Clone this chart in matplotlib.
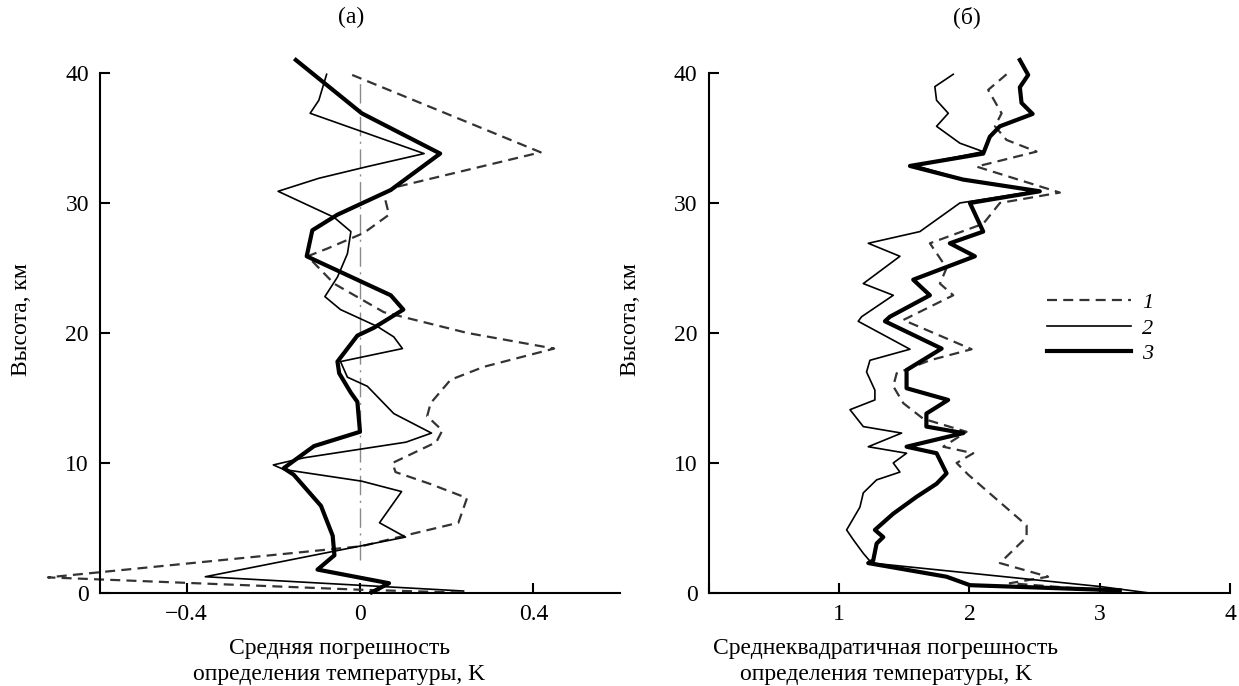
import matplotlib
matplotlib.use("Agg")
import matplotlib.pyplot as plt

# ---- data: panel (а), mean error, K ----
a_h1 = [39.85, 33.9, 31.25, 30.7, 29.1, 27.7, 26.5, 25.9, 23.8, 21.6, 20.0, 18.8, 17.4, 16.4, 14.6, 13.6,
        12.5, 11.6, 10.0, 9.3, 8.4, 7.3, 5.4, 4.5, 3.6, 1.2, 0.25, 0.02]
a_x1 = [-0.018, 0.417, 0.086, 0.055, 0.067, 0.009, -0.075, -0.121, -0.06, 0.055, 0.248, 0.448, 0.286, 0.209,
        0.163, 0.155, 0.19, 0.176, 0.075, 0.082, 0.161, 0.247, 0.227, 0.114, 0.004, -0.72, 0.0, 0.239]

a_h2 = [39.9, 37.9, 36.9, 33.8, 32.8, 31.9, 30.9, 28.9, 27.8, 26.1, 24.3, 22.8, 21.8, 20.5, 19.7, 18.8, 17.8,
        16.6, 15.9, 13.8, 12.3, 11.6, 10.4, 9.85, 9.5, 8.6, 7.8, 5.4, 4.3, 1.25, 0.15]
a_x2 = [-0.077, -0.095, -0.115, 0.148, 0.017, -0.095, -0.189, -0.06, -0.021, -0.029, -0.052, -0.081, -0.045,
        0.04, 0.078, 0.098, -0.045, -0.029, 0.017, 0.078, 0.165, 0.106, -0.129, -0.2, -0.176, 0.004, 0.096,
        0.045, 0.105, -0.357, 0.239]

a_h3 = [41.0, 36.9, 33.8, 31.0, 29.1, 27.9, 25.9, 22.9, 21.8, 20.4, 19.8, 17.8, 16.9, 15.4, 14.7, 12.4, 11.3,
        9.6, 9.1, 6.7, 4.4, 2.9, 1.8, 0.75, 0.05]
a_x3 = [-0.148, 0.004, 0.185, 0.071, -0.052, -0.11, -0.123, 0.071, 0.10, 0.032, -0.006, -0.052, -0.048,
        -0.021, -0.006, 0.0, -0.106, -0.176, -0.153, -0.09, -0.063, -0.059, -0.098, 0.067, 0.027]

# ---- data: panel (б), rms error, K ----
b_h1 = [39.9, 38.7, 36.9, 35.9, 34.85, 33.95, 32.8, 30.8, 30.0, 28.4, 26.9, 25.0, 23.8, 22.9, 21.0, 18.75,
        17.9, 16.9, 15.9, 14.6, 13.4, 12.4, 11.25, 10.75, 10.0, 9.1, 5.2, 4.3, 2.3, 1.25, 0.75, 0.1]
b_x1 = [2.285, 2.144, 2.247, 2.196, 2.285, 2.515, 2.055, 2.694, 2.234, 2.106, 1.697, 1.825, 1.774, 1.876,
        1.493, 2.017, 1.697, 1.442, 1.416, 1.493, 1.646, 1.978, 1.8, 2.03, 1.902, 1.991, 2.439, 2.439, 2.234,
        2.604, 2.31, 3.154]

b_h2 = [39.9, 38.95, 37.9, 36.9, 35.9, 34.6, 33.95, 32.9, 31.8, 30.9, 30.0, 27.8, 26.9, 25.9, 23.8, 22.9,
        21.25, 20.9, 18.75, 17.9, 17.0, 15.6, 14.85, 14.1, 12.8, 12.3, 11.25, 10.75, 10.0, 9.3, 8.7, 7.7, 6.6,
        4.85, 4.1, 3.05, 2.3, 0.5, 0.0]
b_x2 = [1.876, 1.735, 1.748, 1.838, 1.748, 1.927, 2.106, 1.58, 1.96, 2.5, 1.927, 1.62, 1.224, 1.467, 1.186,
        1.416, 1.173, 1.147, 1.544, 1.237, 1.211, 1.275, 1.275, 1.084, 1.186, 1.48, 1.224, 1.518, 1.416, 1.467,
        1.288, 1.186, 1.16, 1.058, 1.109, 1.186, 1.25, 3.0, 3.38]

b_h3 = [41.0, 39.85, 38.9, 37.7, 36.85, 35.9, 35.1, 33.8, 32.85, 31.8, 30.9, 30.0, 27.8, 26.9, 25.9, 24.1,
        22.9, 21.25, 20.9, 18.8, 17.15, 15.75, 14.85, 13.8, 12.8, 12.3, 11.25, 10.75, 9.2, 8.4, 7.4, 6.1, 4.85,
        4.3, 3.8, 2.5, 2.3, 1.25, 0.6, 0.2]
b_x3 = [2.387, 2.451, 2.387, 2.40, 2.485, 2.234, 2.157, 2.106, 1.544, 1.952, 2.54, 2.004, 2.106, 1.85, 2.042,
        1.569, 1.697, 1.39, 1.352, 1.787, 1.518, 1.518, 1.837, 1.67, 1.67, 1.953, 1.518, 1.748, 1.825, 1.748,
        1.595, 1.416, 1.275, 1.339, 1.288, 1.262, 1.224, 1.825, 2.004, 3.154]

labels = ["1", "2", "3"]
zero_line = (2.5, 39.6)

a_xticks = [-0.4, 0, 0.4]
a_xticklabels = ["\u22120.4", "0", "0.4"]
b_xticks = [0, 1, 2, 3, 4]
b_xticklabels = ["", "1", "2", "3", "4"]
yticks = [0, 10, 20, 30, 40]

plt.rcParams['font.family'] = ['Liberation Serif', 'DejaVu Serif']
plt.rcParams['font.size'] = 17

fig = plt.figure(figsize=(12.39, 6.86), dpi=100)
ax1 = fig.add_axes([0.0807, 0.1356, 0.4197, 0.7959])
ax2 = fig.add_axes([0.572, 0.1356, 0.4208, 0.7959])

style1 = dict(color="#333333", lw=1.6, dashes=(4.5, 2.8), clip_on=False)
style2 = dict(color="black", lw=1.2, clip_on=False)
style3 = dict(color="black", lw=3.0, clip_on=False)

ax1.vlines(0, *zero_line, color="#8a8a8a", lw=1.0, linestyles=[(0, (14, 4, 1.5, 4))])
ax1.plot(a_x1, a_h1, **style1)
ax1.plot(a_x2, a_h2, **style2)
ax1.plot(a_x3, a_h3, **style3)

l1, = ax2.plot(b_x1, b_h1, **style1)
l2, = ax2.plot(b_x2, b_h2, **style2)
l3, = ax2.plot(b_x3, b_h3, **style3)

for ax in (ax1, ax2):
    ax.set_ylim(0, 42)
    ax.spines['top'].set_visible(False)
    ax.spines['right'].set_visible(False)
    ax.spines['left'].set_bounds(0, 40)
    for s in ('left', 'bottom'):
        ax.spines[s].set_linewidth(1.5)
    ax.set_yticks(yticks)
    ax.tick_params(direction='in', length=7, width=1.5)
    ax.tick_params(axis='x', pad=8)
    ax.tick_params(axis='y', pad=8)
    ax.set_ylabel("Высота, км", labelpad=24)

ax1.set_xlim(-0.6, 0.6)
ax1.set_xticks(a_xticks)
ax1.set_xticklabels(a_xticklabels)
ax1.set_xlabel("Средняя погрешность\nопределения температуры, K", linespacing=1.3)
ax1.xaxis.set_label_coords(0.46, -0.083)

ax2.set_xlim(0, 4)
ax2.set_xticks(b_xticks)
ax2.set_xticklabels(b_xticklabels)
ax2.set_xlabel("Среднеквадратичная погрешность\nопределения температуры, K", linespacing=1.3)
ax2.xaxis.set_label_coords(0.34, -0.083)

ax2.legend([l1, l2, l3], labels, loc='upper left', bbox_to_anchor=(0.648, 0.55), frameon=False,
           prop={'style': 'italic', 'size': 16}, handlelength=3.8, handletextpad=0.5,
           labelspacing=0.22, borderpad=0, borderaxespad=0)

fig.text(0.283, 0.975, "(а)", ha='center', va='center', fontsize=17)
fig.text(0.78, 0.975, "(б)", ha='center', va='center', fontsize=17)

fig.savefig("out.png", dpi=100)
